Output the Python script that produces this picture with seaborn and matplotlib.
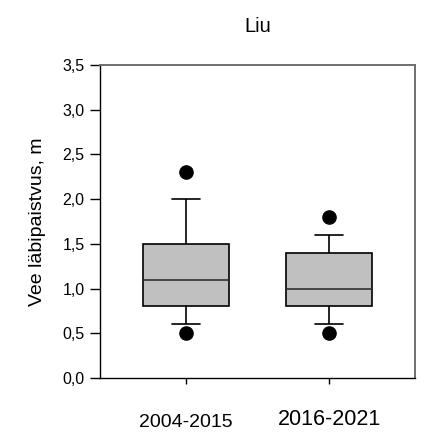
import numpy as np
import pandas as pd
import matplotlib
matplotlib.use('Agg')
import matplotlib.pyplot as plt
import seaborn as sns

# yearly water transparency values (m)
periods = ['2004-2015', '2016-2021']
vals_2004_2015 = [0.5, 0.6, 0.8, 0.8, 1.0, 1.1, 1.1, 1.2, 1.5, 1.5, 2.0, 2.3]
vals_2016_2021 = [0.5, 0.6, 0.8, 0.8, 0.9, 1.0, 1.0, 1.1, 1.4, 1.4, 1.6, 1.8]
y_ticks = [0.0, 0.5, 1.0, 1.5, 2.0, 2.5, 3.0, 3.5]

df = pd.DataFrame({
    'periood': [periods[0]] * len(vals_2004_2015) + [periods[1]] * len(vals_2016_2021),
    'labipaistvus': vals_2004_2015 + vals_2016_2021,
})

sns.set_style('white')
plt.rcParams['font.family'] = ['Liberation Sans', 'DejaVu Sans']
plt.rcParams['text.color'] = 'black'
plt.rcParams['axes.labelcolor'] = 'black'
plt.rcParams['xtick.color'] = 'black'
plt.rcParams['ytick.color'] = 'black'

fig = plt.figure(figsize=(4.29, 4.33), dpi=100)
ax = fig.add_axes([100 / 429, 55 / 433, 315 / 429, 313 / 433])

sns.boxplot(data=df, x='periood', y='labipaistvus', order=periods, ax=ax,
            width=0.6, whis=(5, 95), color='#c0c0c0', linecolor='black',
            linewidth=1.2, saturation=1, capwidths=0.19,
            medianprops={'color': '#303030', 'linewidth': 1.2},
            flierprops={'marker': 'o', 'markersize': 9.5,
                        'markerfacecolor': 'black', 'markeredgecolor': 'black'})

ax.set_xlim(-0.6, 1.6)
ax.set_ylim(0, 3.5)
ax.set_yticks(y_ticks)
ax.set_yticklabels([f'{v:.1f}'.replace('.', ',') for v in y_ticks], fontsize=11.5)
ax.set_xticks(range(len(periods)))
ax.set_xticklabels(periods)
ax.tick_params(axis='y', direction='out', length=7, width=1, left=True, pad=4)
ax.tick_params(axis='x', direction='out', length=4, width=1, bottom=True)

# second label is printed a bit larger and higher in the original
xt = ax.get_xticklabels()
xt[0].set_fontsize(14)
xt[1].set_fontsize(15.5)
ticks = ax.xaxis.get_major_ticks()
ticks[0].set_pad(22)
ticks[1].set_pad(18)

for side in ['left', 'bottom']:
    ax.spines[side].set_color('black')
    ax.spines[side].set_linewidth(1.0)
for side in ['top', 'right']:
    ax.spines[side].set_color('#6e6e6e')
    ax.spines[side].set_linewidth(1.4)

ax.set_xlabel('')
ax.set_ylabel('Vee läbipaistvus, m', fontsize=14, labelpad=12)
ax.set_title('Liu', fontsize=14.5, pad=24)

plt.savefig('out.png', dpi=100)
